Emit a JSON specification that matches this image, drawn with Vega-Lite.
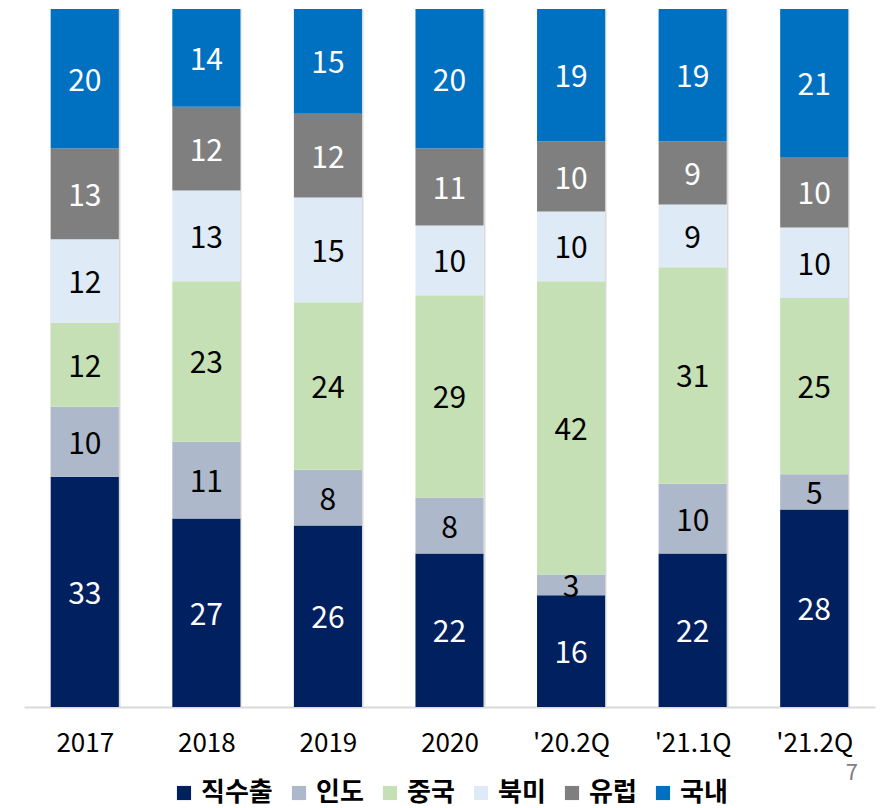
{
  "$schema": "https://vega.github.io/schema/vega-lite/v6.json",
  "width": 851,
  "height": 698,
  "autosize": {"type": "none"},
  "padding": {"left": 24, "top": 9, "right": 6, "bottom": 101},
  "background": "white",
  "title": {"text": "7", "orient": "bottom", "anchor": "end", "offset": 10, "dx": -17, "dy": -53, "fontSize": 22, "fontWeight": "normal", "color": "#808080", "font": "Noto Sans CJK KR"},
  "data": {"values": [
    {"period": "2017", "region": "직수출", "v": 33},
    {"period": "2017", "region": "인도", "v": 10},
    {"period": "2017", "region": "중국", "v": 12},
    {"period": "2017", "region": "북미", "v": 12},
    {"period": "2017", "region": "유럽", "v": 13},
    {"period": "2017", "region": "국내", "v": 20},
    {"period": "2018", "region": "직수출", "v": 27},
    {"period": "2018", "region": "인도", "v": 11},
    {"period": "2018", "region": "중국", "v": 23},
    {"period": "2018", "region": "북미", "v": 13},
    {"period": "2018", "region": "유럽", "v": 12},
    {"period": "2018", "region": "국내", "v": 14},
    {"period": "2019", "region": "직수출", "v": 26},
    {"period": "2019", "region": "인도", "v": 8},
    {"period": "2019", "region": "중국", "v": 24},
    {"period": "2019", "region": "북미", "v": 15},
    {"period": "2019", "region": "유럽", "v": 12},
    {"period": "2019", "region": "국내", "v": 15},
    {"period": "2020", "region": "직수출", "v": 22},
    {"period": "2020", "region": "인도", "v": 8},
    {"period": "2020", "region": "중국", "v": 29},
    {"period": "2020", "region": "북미", "v": 10},
    {"period": "2020", "region": "유럽", "v": 11},
    {"period": "2020", "region": "국내", "v": 20},
    {"period": "'20.2Q", "region": "직수출", "v": 16},
    {"period": "'20.2Q", "region": "인도", "v": 3},
    {"period": "'20.2Q", "region": "중국", "v": 42},
    {"period": "'20.2Q", "region": "북미", "v": 10},
    {"period": "'20.2Q", "region": "유럽", "v": 10},
    {"period": "'20.2Q", "region": "국내", "v": 19},
    {"period": "'21.1Q", "region": "직수출", "v": 22},
    {"period": "'21.1Q", "region": "인도", "v": 10},
    {"period": "'21.1Q", "region": "중국", "v": 31},
    {"period": "'21.1Q", "region": "북미", "v": 9},
    {"period": "'21.1Q", "region": "유럽", "v": 9},
    {"period": "'21.1Q", "region": "국내", "v": 19},
    {"period": "'21.2Q", "region": "직수출", "v": 28},
    {"period": "'21.2Q", "region": "인도", "v": 5},
    {"period": "'21.2Q", "region": "중국", "v": 25},
    {"period": "'21.2Q", "region": "북미", "v": 10},
    {"period": "'21.2Q", "region": "유럽", "v": 10},
    {"period": "'21.2Q", "region": "국내", "v": 21}
  ]},
  "transform": [
    {"calculate": "indexof(['직수출','인도','중국','북미','유럽','국내'], datum.region)", "as": "ord"},
    {"stack": "v", "groupby": ["period"], "sort": [{"field": "ord"}], "as": ["y0", "y1"], "offset": "normalize"},
    {"calculate": "(datum.y0 + datum.y1) / 2", "as": "ym"}
  ],
  "encoding": {
    "x": {
      "field": "period", "type": "nominal",
      "sort": ["2017", "2018", "2019", "2020", "'20.2Q", "'21.1Q", "'21.2Q"],
      "scale": {"paddingInner": 0.44, "paddingOuter": 0.22},
      "axis": {
        "title": null, "labelAngle": 0, "ticks": false,
        "domain": true, "domainColor": "#d9d9d9", "domainWidth": 2,
        "grid": true, "gridColor": "#d9d9d9", "gridWidth": 2, "tickBand": "extent",
        "labelPadding": 23, "labelFontSize": 26, "labelColor": "#000000",
        "labelFont": "Noto Sans CJK KR"
      }
    }
  },
  "layer": [
    {
      "mark": {"type": "bar"},
      "encoding": {
        "y": {"field": "y0", "type": "quantitative", "scale": {"domain": [0, 1]}, "axis": null},
        "y2": {"field": "y1"},
        "color": {
          "field": "region", "type": "nominal",
          "scale": {
            "domain": ["직수출", "인도", "중국", "북미", "유럽", "국내"],
            "range": ["#002060", "#ADB9CA", "#C5E0B4", "#DEEBF7", "#7F7F7F", "#0070C0"]
          },
          "legend": {
            "title": null, "orient": "none", "legendX": 147, "legendY": 771, "direction": "horizontal",
            "symbolType": "square", "symbolSize": 200, "symbolStrokeWidth": 0,
            "labelFontSize": 26, "labelFontWeight": "bold", "labelFont": "Noto Sans CJK KR", "labelColor": "#000000",
            "columnPadding": 13, "symbolOffset": 0, "labelOffset": 4
          }
        }
      }
    },
    {
      "mark": {"type": "text", "fontSize": 30, "font": "Noto Sans CJK KR", "baseline": "middle", "align": "center", "dy": 3},
      "encoding": {
        "y": {"field": "ym", "type": "quantitative", "scale": {"domain": [0, 1]}},
        "text": {"field": "v", "type": "quantitative"},
        "color": {
          "condition": {"test": "indexof(['직수출','유럽','국내'], datum.region) >= 0", "value": "#ffffff"},
          "value": "#000000"
        }
      }
    }
  ],
  "config": {"view": {"stroke": null}}
}
